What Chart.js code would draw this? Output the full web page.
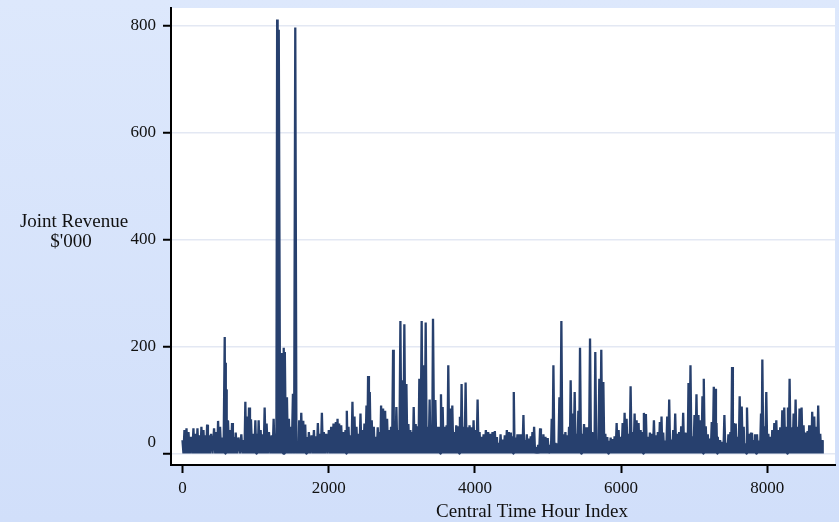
<!DOCTYPE html>
<html>
<head>
<meta charset="utf-8">
<script src="https://cdn.jsdelivr.net/npm/chart.js@4.4.1/dist/chart.umd.min.js"></script>
<style>
  html, body { margin: 0; padding: 0; }
  body { width: 839px; height: 522px; background: linear-gradient(to bottom, #dde8fc, #d1dffa); overflow: hidden; }
  canvas { display: block; }
</style>
</head>
<body>
<canvas id="c" width="839" height="522"></canvas>
<script>
const peakHours = [
0,27,55,82,118,150,177,205,232,259,287,314,337,359,391,432,464,487,514,546,
578,590,600,610,623,651,678,701,728,765,805,837,860,883,910,937,969,997,1019,1042,
1069,1097,1124,1151,1183,1220,1247,1274,1295,1308,1320,1352,1366,1385,1400,1429,1456,1479,1511,1543,
1575,1597,1625,1652,1679,1702,1729,1766,1798,1825,1852,1880,1907,1934,1966,2002,2034,2066,2098,2121,
2143,2171,2203,2230,2248,2271,2298,2325,2353,2380,2407,2435,2462,2489,2517,2539,2562,2589,2617,2644,
2671,2694,2717,2744,2772,2799,2826,2853,2881,2899,2926,2953,2981,3008,3035,3063,3090,3117,3140,3163,
3190,3217,3240,3272,3299,3327,3354,3381,3404,3427,3459,3490,3513,3536,3559,3586,3613,3636,3663,3691,
3718,3745,3773,3795,3818,3845,3873,3900,3927,3955,3982,4009,4037,4064,4091,4119,4150,4182,4209,4241,
4273,4301,4323,4351,4382,4409,4437,4464,4491,4514,4532,4555,4582,4610,4637,4664,4687,4710,4737,4764,
4787,4810,4837,4865,4892,4915,4937,4965,4996,5028,5051,5074,5101,5128,5156,5183,5210,5238,5265,5288,
5310,5338,5365,5392,5415,5438,5465,5493,5520,5547,5575,5602,5625,5647,5675,5702,5729,5757,5784,5811,
5834,5857,5884,5911,5939,5966,5993,6021,6048,6075,6103,6130,6157,6185,6212,6239,6267,6289,6312,6339,
6367,6394,6421,6449,6476,6503,6530,6553,6576,6603,6631,6658,6685,6713,6740,6767,6794,6822,6849,6876,
6899,6922,6949,6976,7004,7031,7058,7086,7113,7131,7158,7186,7213,7240,7268,7290,7305,7322,7354,7386,
7413,7440,7468,7495,7518,7540,7568,7595,7622,7650,7677,7700,7722,7750,7777,7804,7832,7859,7886,7914,
7932,7959,7986,8014,8041,8068,8096,8123,8150,8177,8205,8232,8259,8282,8305,8332,8360,8387,8414,8441,
8469,8496,8523,8551,8573,8592,8614,8642,8669,8696,8724,8751,8760
];
const peakRevenue = [
25,44,47,40,31,47,37,47,34,50,44,34,54,34,37,47,40,61,50,30,
218,170,120,62,61,44,57,31,39,30,36,25,97,69,86,64,37,62,37,62,
44,36,86,56,40,34,65,37,812,30,793,188,150,198,190,105,65,50,112,797,
22,62,76,61,54,31,40,34,44,32,57,37,76,40,37,44,50,56,59,65,
56,53,40,44,80,50,34,97,69,50,37,75,44,56,90,145,115,62,50,31,
49,40,90,84,80,65,44,50,194,59,87,44,248,137,242,130,55,44,40,87,
55,51,140,248,165,245,50,101,47,252,100,50,50,111,87,50,53,165,84,90,
40,53,51,69,130,50,133,49,53,49,62,44,101,40,31,36,44,40,37,40,
42,31,20,36,26,34,44,40,39,32,115,30,36,36,36,72,25,36,28,32,
40,50,12,16,47,19,36,31,29,16,65,165,20,19,105,248,36,40,34,50,
137,75,115,37,80,198,37,55,49,44,215,40,25,190,22,140,194,134,37,31,
24,30,27,32,57,44,31,57,76,65,37,126,40,75,62,57,44,40,76,74,
31,39,37,62,34,40,59,69,39,24,69,101,26,44,75,37,40,51,76,39,
19,132,165,32,72,111,72,62,107,140,51,36,28,59,125,121,57,31,25,22,
72,20,36,40,162,57,56,31,107,88,50,19,86,37,39,25,36,36,24,75,
176,51,115,37,31,44,57,62,44,49,81,86,50,86,140,49,75,101,50,84,
86,53,39,42,53,40,78,69,50,90,37,25,20
];
// Between peaks the hourly series falls back to its overnight floor
const troughRevenue = 0;

const xTickValues = [0, 2000, 4000, 6000, 8000];
const yTickValues = [0, 200, 400, 600, 800];
const xTitleText = 'Central Time Hour Index';
const yTitleLines = ['Joint Revenue', "$'000"];

const seriesPoints = [];
for (let i = 0; i < peakHours.length; i++) {
  if (i > 0) seriesPoints.push({ x: (peakHours[i - 1] + peakHours[i]) / 2, y: troughRevenue });
  seriesPoints.push({ x: peakHours[i], y: peakRevenue[i] });
}

const FONT = '"Liberation Serif", "Times New Roman", serif';

const plotBg = {
  id: 'plotBg',
  beforeDraw(chart) {
    const { ctx, chartArea: a } = chart;
    ctx.save();
    ctx.fillStyle = '#ffffff';
    ctx.fillRect(a.left, a.top, a.right - a.left, a.bottom - a.top);
    ctx.restore();
  }
};
const axisTitles = {
  id: 'axisTitles',
  afterDraw(chart) {
    const ctx = chart.ctx;
    ctx.save();
    ctx.fillStyle = '#111111';
    ctx.font = '19px ' + FONT;
    ctx.textAlign = 'center';
    ctx.textBaseline = 'middle';
    ctx.fillText(yTitleLines[0], 74, 222);
    ctx.fillText(yTitleLines[1], 71, 242);
    ctx.fillText(xTitleText, 532, 512);
    ctx.restore();
  }
};

new Chart(document.getElementById('c'), {
  type: 'line',
  data: {
    datasets: [{
      data: seriesPoints,
      borderColor: '#27406e',
      borderWidth: 2.3,
      borderJoinStyle: 'bevel',
      pointRadius: 0,
      tension: 0,
      fill: false
    }]
  },
  plugins: [plotBg, axisTitles],
  options: {
    responsive: false,
    animation: false,
    events: [],
    layout: { padding: { left: 0, right: 4, top: 8, bottom: 0 } },
    plugins: { legend: { display: false }, tooltip: { enabled: false } },
    scales: {
      x: {
        type: 'linear',
        min: -157,
        max: 8926,
        afterBuildTicks(s) { s.ticks = xTickValues.map(v => ({ value: v })); },
        afterFit(s) { s.height = 57; s.paddingLeft = 0; s.paddingRight = 0; },
        grid: { drawOnChartArea: false, drawTicks: true, tickLength: 8, tickColor: '#000', tickWidth: 2 },
        border: { display: true, color: '#000', width: 2 },
        ticks: { color: '#111', font: { family: FONT, size: 17 }, padding: 5, maxRotation: 0, autoSkip: false, callback: v => String(v) },
        title: { display: false }
      },
      y: {
        type: 'linear',
        min: -21.5,
        max: 833.6,
        afterBuildTicks(s) { s.ticks = yTickValues.map(v => ({ value: v })); },
        afterFit(s) { s.width = 171; s.paddingTop = 0; s.paddingBottom = 0; },
        grid: { color: '#e3e8f3', lineWidth: 1.5, drawTicks: true, tickLength: 8, tickColor: '#000', tickWidth: 2 },
        border: { display: true, color: '#000', width: 2 },
        ticks: {
          color: '#111',
          font: { family: FONT, size: 17, lineHeight: 1.3 },
          padding: 7,
          autoSkip: false,
          callback: v => v === 0 ? ['0', ''] : String(v)
        }
      }
    }
  }
});
</script>
</body>
</html>
